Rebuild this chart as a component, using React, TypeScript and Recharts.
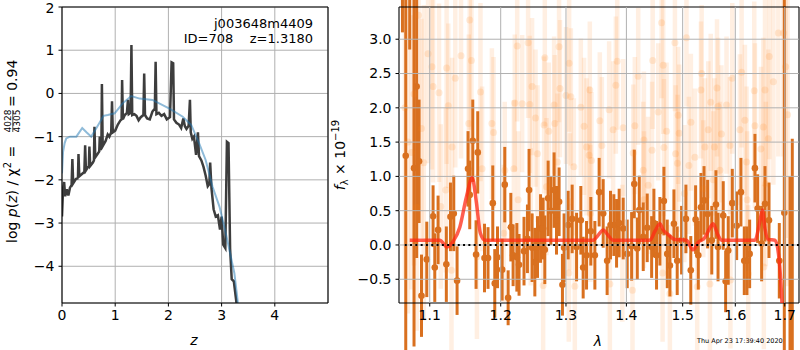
import React from 'react'
import {
  ComposedChart,
  Line,
  Scatter,
  ErrorBar,
  XAxis,
  YAxis,
  CartesianGrid,
  ReferenceLine,
} from 'recharts'

const FONT = "'DejaVu Sans', sans-serif"

// left panel: log p(z)
const zDark = [
  0, 0.02, 0.04, 0.06, 0.09, 0.12, 0.15, 0.18, 0.195, 0.21, 0.26, 0.3, 0.31, 0.325, 0.38, 0.42,
  0.435, 0.45, 0.48, 0.505, 0.515, 0.53, 0.58, 0.6, 0.61, 0.625, 0.67, 0.7, 0.71, 0.72, 0.74, 0.75,
  0.765, 0.82, 0.86, 0.89, 0.925, 0.94, 0.955, 1.0, 1.05, 1.1, 1.12, 1.13, 1.145, 1.18, 1.22, 1.24,
  1.255, 1.29, 1.305, 1.32, 1.36, 1.4, 1.44, 1.48, 1.53, 1.545, 1.56, 1.6, 1.65, 1.7, 1.745, 1.76,
  1.775, 1.82, 1.87, 1.92, 1.97, 2.03, 2.06, 2.09, 2.105, 2.15, 2.2, 2.24, 2.28, 2.31, 2.34, 2.38,
  2.405, 2.42, 2.45, 2.48, 2.52, 2.555, 2.575, 2.62, 2.66, 2.7, 2.74, 2.77, 2.785, 2.81, 2.85, 2.89,
  2.93, 2.97, 3.0, 3.03, 3.07, 3.1, 3.13, 3.16, 3.19, 3.23, 3.28, 3.31,
]
const pDark = [
  -2.85, -2.2, -2.05, -2.38, -2.22, -2.36, -2.18, -2.12, -1.52, -2.08, -1.98, -1.96, -1.4, -1.92,
  -1.86, -1.82, -1.2, -1.78, -1.72, -1.68, -1.23, -1.68, -1.6, -1.55, -0.77, -1.48, -1.4, -1.34,
  -1.0, -1.3, -1.25, 0.22, -1.22, -1.1, -0.95, -1.0, -0.9, -0.18, -0.9, -0.86, -0.72, -0.62, -0.6,
  0.31, -0.6, -0.5, -0.45, -0.15, -0.48, -0.45, 1.12, -0.5, -0.48, -0.52, -0.62, -0.55, -0.5, 0.46,
  -0.5, -0.58, -0.6, -0.42, -0.35, 0.73, -0.48, -0.45, -0.52, -0.48, -0.6, -0.55, 0.72, 0.7, -0.6,
  -0.68, -0.72, -0.8, -0.58, -0.76, -0.82, -0.75, -0.15, -0.9, -1.05, -1.0, -1.42, -0.9, -1.45,
  -1.55, -1.7, -1.9, -2.15, -2.1, -1.6, -2.2, -2.68, -2.85, -2.82, -3.15, -2.85, -3.5, -3.58, -1.12,
  -1.15, -3.6, -4.3, -4.35, -4.85, -5.4,
]
const zBlue = [
  0, 0.02, 0.05, 0.08, 0.15, 0.27, 0.38, 0.46, 0.55, 0.7, 0.78, 0.86, 0.99, 1.14, 1.3, 1.46, 1.7,
  2.02, 2.27, 2.43, 2.58, 2.7, 2.83, 2.96, 3.08, 3.24, 3.3, 3.34,
]
const pBlue = [
  -1.85, -1.35, -1.15, -1.04, -1.0, -1.0, -0.8, -0.9, -1.0, -0.69, -0.52, -0.5, -0.46, -0.23, -0.06,
  -0.12, -0.15, -0.35, -0.54, -0.73, -1.16, -1.54, -2.16, -2.62, -3.24, -4.16, -4.78, -5.3,
]
const zTicks = [0, 1, 2, 3, 4]
const pTicks = [-4, -3, -2, -1, 0, 1, 2]

// right panel: spectrum, bold points
const lamDark = [
  1.0638, 1.0681, 1.0733, 1.079, 1.0825, 1.0857, 1.0889, 1.096, 1.1045, 1.1068, 1.1113, 1.1226,
  1.1283, 1.1329, 1.1375, 1.1529, 1.1553, 1.1596, 1.1643, 1.1667, 1.1764, 1.1815, 1.1884, 1.1913,
  1.1953, 1.2021, 1.206, 1.211, 1.215, 1.2184, 1.224, 1.2273, 1.2348, 1.24, 1.2425, 1.2471, 1.2513,
  1.2554, 1.2601, 1.2641, 1.2667, 1.2719, 1.2761, 1.2812, 1.285, 1.2891, 1.2944, 1.297, 1.3035,
  1.3099, 1.317, 1.3239, 1.3277, 1.3332, 1.3402, 1.3469, 1.354, 1.3607, 1.3673, 1.373, 1.3786,
  1.3832, 1.3876, 1.3945, 1.4014, 1.409, 1.4136, 1.4188, 1.4223, 1.4292, 1.4362, 1.444, 1.448,
  1.4527, 1.4587, 1.4659, 1.4719, 1.4767, 1.484, 1.49, 1.498, 1.506, 1.515, 1.524, 1.529, 1.534,
  1.5398, 1.5466, 1.5545, 1.5625, 1.5665, 1.5765, 1.5812, 1.5862, 1.5941, 1.6027, 1.6111, 1.6177,
  1.623, 1.6284, 1.639, 1.6444, 1.6525, 1.6593, 1.6675, 1.6887, 1.6991, 1.711, 1.7158,
]
const fluxDark = [
  4.3, 1.3, 4.2, 1.12, 2.31, 1.22, -0.74, -0.21, 0.42, -0.33, 0.22, -0.28, 0.41, 0.46, -0.52, 1.11,
  0.73, 1.52, -0.14, 1.35, -0.19, -0.19, 0.61, -0.56, -0.18, -0.36, 0.88, -0.77, 0.26, -0.15,
  -0.18, -0.29, -0.09, 0.09, 0.8, -0.04, -0.25, -0.03, 0.24, 0.24, -0.07, 0.68, 0.5, 0.8, 0.36,
  0.63, -0.58, -0.04, 0.29, 0.38, -0.03, 0.36, -0.33, -0.15, 0.2, -0.15, 0.77, 0.46, -0.23, 0.29,
  0.29, 0.17, 0.32, 0.24, -0.13, -0.02, 0.89, -0.05, 0.51, 0.12, 0.25, -0.03, 0.32, -0.15, 0.2,
  0.64, -0.13, -0.3, 0.31, -0.23, 0.07, 0.38, -0.37, 0.37, -0.15, 0.55, 0.65, 0.45, 0.07, 0.59,
  -0.03, 0.43, -0.53, -0.08, 0.61, 0.28, 0.77, -0.23, -0.23, -0.13, 1.12, 0.53, 0.02, 0.6, 0.36,
  -0.23, 0.47, -1.5, -1.4,
]
const errDark = [
  1.2, 3.0, 1.35, 2.6, 2.5, 0.9, 0.6, 0.55, 0.45, 0.5, 0.5, 0.55, 0.5, 0.55, 0.5, 0.55, 0.5, 0.6,
  0.5, 0.6, 0.5, 0.45, 0.55, 0.5, 0.45, 0.45, 0.55, 0.4, 0.5, 0.45, 0.5, 0.45, 0.5, 0.5, 0.6, 0.5,
  0.5, 0.45, 0.5, 0.45, 0.5, 0.55, 0.5, 0.55, 0.5, 0.5, 0.45, 0.5, 0.5, 0.5, 0.5, 0.5, 0.45, 0.5,
  0.5, 0.5, 0.5, 0.5, 0.5, 0.5, 0.45, 0.5, 0.5, 0.45, 0.5, 0.5, 0.5, 0.45, 0.5, 0.5, 0.5, 0.45,
  0.5, 0.5, 0.5, 0.5, 0.5, 0.45, 0.5, 0.5, 0.5, 0.5, 0.5, 0.5, 0.5, 0.5, 0.5, 0.5, 0.5, 0.5, 0.5,
  0.5, 0.45, 0.5, 0.5, 0.5, 0.5, 0.5, 0.5, 0.5, 0.5, 0.5, 0.55, 0.55, 0.55, 0.55, 3.5, 2.5, 2.95,
]

// right panel: faint (other exposures) points
const lamFaint = [
  1.085, 1.0977, 1.103, 1.1045, 1.1126, 1.123, 1.1253, 1.135, 1.143, 1.1553, 1.1577, 1.1706,
  1.2245, 1.241, 1.2667, 1.289, 1.305, 1.2471, 1.2905, 1.3, 1.3078, 1.2209, 1.232, 1.2436, 1.2812,
  1.3239, 1.4617, 1.507, 1.4858, 1.3843, 1.4458, 1.4646, 1.4204, 1.382, 1.3386, 1.6867, 1.6971,
  1.668, 1.5353, 1.5941, 1.6124, 1.5645, 1.534, 1.6376, 1.6593, 1.6764, 1.5525, 1.5829, 1.5665,
  1.0889, 1.0757, 1.1539, 1.1871, 1.1895, 1.1305, 1.1729, 1.1218, 1.0825, 1.2524, 1.2656, 1.2823,
  1.3292, 1.2729, 1.2554, 1.2865, 1.3126, 1.3332, 1.3375, 1.2195, 1.206, 1.226, 1.3062, 1.3707,
  1.4557, 1.4918, 1.3551, 1.3945, 1.4146, 1.4707, 1.3774, 1.4304, 1.4936, 1.3585, 1.4447, 1.466,
  1.4117, 1.487, 1.4292, 1.4905, 1.3413, 1.4379, 1.5152, 1.5478, 1.619, 1.639, 1.6559, 1.573,
  1.6091, 1.5895, 1.5415, 1.5595, 1.6511, 1.6661, 1.5227, 1.6223, 1.5701, 1.5115, 1.661, 1.5384,
  1.115, 1.1297, 1.1655, 1.2045, 1.245, 1.2693, 1.3045, 1.3395, 1.393, 1.4105, 1.4305, 1.4635,
  1.5031, 1.527, 1.5573, 1.5905, 1.6235, 1.657, 1.2641, 1.3142, 1.3719, 1.4767, 1.551, 1.6256,
  1.067, 1.071, 1.079, 1.092, 1.702, 1.706,
]
const fluxFaint = [
  3.35, 2.79, 2.6, 2.31, 2.22, 2.58, 2.03, 2.43, 2.76, 3.28, 2.69, 2.23,
  2.9, 2.95, 2.73, 2.89, 2.65, 2.31, 2.28, 2.18, 2.16, 2.07, 2.06, 2.05, 2.04,
  2.01, 3.24, 3.02, 2.95, 2.68, 2.69, 2.62, 2.46, 2.33, 2.26, 3.09, 3.09,
  2.75, 2.5, 2.43, 2.52, 2.29, 2.26, 2.25, 2.26, 2.38, 2.08, 2.04, 2.02,
  1.7, 1.35, 1.77, 1.77, 1.64, 1.43, 1.11, 0.8, 0.55, 1.85, 1.75, 1.77,
  1.73, 1.66, 1.33, 1.21, 1.14, 1.43, 1.31, 1.11, 1.09, 0.66, 0.63, 1.97,
  1.94, 1.89, 1.81, 1.71, 1.74, 1.66, 1.68, 1.53, 1.63, 1.45, 1.38, 1.42,
  1.34, 1.33, 1.09, 1.19, 1.23, 0.87, 1.79, 1.68, 1.82, 1.74, 1.72, 1.62,
  1.68, 1.45, 1.43, 1.43, 1.4, 1.55, 1.28, 1.21, 1.09, 1.16, 0.89, 0.82,
  0.56, -0.37, -0.17, 0.17, 0.41, 0.85, -0.41, 0.46, -0.12, -0.66, 0.66, -0.41,
  0.75, -0.61, 0.95, -0.51, 0.66, -0.32, -0.59, -0.6, -0.57, -0.71, -0.57, -0.42,
  2.0, 1.5, 2.2, 1.2, 2.6, 1.9,
]
const errFaint = [
  1.8, 1.6, 1.5, 1.4, 1.3, 1.4, 1.2, 1.3, 1.5, 1.6, 1.5, 1.3,
  1.1, 1.1, 1.0, 1.1, 1.0, 1.0, 1.0, 1.0, 1.0, 1.0, 1.0, 1.0, 1.0,
  1.0, 1.1, 1.0, 1.0, 1.0, 1.0, 1.0, 1.0, 1.0, 1.0, 1.8, 1.8,
  1.5, 1.0, 1.1, 1.1, 1.0, 1.0, 1.3, 1.4, 1.5, 1.0, 1.0, 1.0,
  1.6, 2.0, 1.3, 1.1, 1.1, 1.3, 1.2, 1.2, 1.8, 1.0, 1.0, 1.0,
  1.0, 1.0, 1.0, 1.0, 1.0, 1.0, 1.0, 1.0, 1.0, 1.0, 1.0, 1.0,
  1.0, 1.0, 1.0, 1.0, 1.0, 1.0, 1.0, 1.0, 1.0, 1.0, 1.0, 1.0,
  1.0, 1.0, 1.0, 1.0, 1.0, 1.0, 1.0, 1.0, 1.1, 1.2, 1.3, 1.0,
  1.1, 1.0, 1.0, 1.0, 1.2, 1.3, 1.0, 1.1, 1.0, 1.0, 1.2, 1.0,
  1.2, 1.2, 1.2, 1.0, 1.0, 1.0, 1.0, 1.0, 1.0, 1.0, 1.0, 1.0,
  1.0, 1.0, 1.0, 1.0, 1.0, 1.2, 1.0, 1.0, 1.0, 1.0, 1.0, 1.0,
  2.5, 2.5, 2.5, 2.3, 2.5, 2.5,
]

// right panel: model and zero level
const lamModel = [
  1.0733, 1.1136, 1.1236, 1.1325, 1.1413, 1.1506, 1.1588, 1.1644, 1.1705, 1.1768, 1.344, 1.3522,
  1.3607, 1.369, 1.3774, 1.4409, 1.4498, 1.4587, 1.4646, 1.4737, 1.4858, 1.507, 1.519, 1.529,
  1.5415, 1.551, 1.557, 1.566, 1.573, 1.639, 1.6491, 1.654, 1.659, 1.666, 1.68, 1.687, 1.694, 1.697,
]
const fluxModel = [
  0.07, 0.07, -0.03, 0.06, 0.26, 0.7, 0.98, 0.65, 0.17, 0.07, 0.07, 0.14, 0.22, 0.14, 0.07, 0.07,
  0.2, 0.31, 0.22, 0.15, 0.08, 0.07, -0.07, 0.04, 0.11, 0.25, 0.31, 0.15, 0.07, 0.07, 0.35, 0.51,
  0.25, 0.08, 0.07, -0.13, -0.81, -1.3,
]
const lamZero = [1.0668, 1.73]
const lamTicks = [1.1, 1.2, 1.3, 1.4, 1.5, 1.6, 1.7]
const fluxTicks = [-0.5, 0, 0.5, 1, 1.5, 2, 2.5, 3]

const zip = (a: number[], b: number[], ka: string, kb: string) =>
  a.map((v, i) => ({ [ka]: v, [kb]: b[i] }))

const leftDark = zip(zDark, pDark, 'z', 'p')
const leftBlue = zip(zBlue, pBlue, 'z', 'p')
const darkPts = lamDark.map((l, i) => ({ lam: l, flux: fluxDark[i], err: errDark[i] }))
const faintPts = lamFaint.map((l, i) => ({ lam: l, flux: fluxFaint[i], err: errFaint[i] }))
const model = zip(lamModel, fluxModel, 'lam', 'flux')
const zeroLine = lamZero.map((l) => ({ lam: l, flux: 0 }))

const minus = (s: string) => s.replace('-', '\u2212')
const tickStyle = { fontSize: 14, fill: '#000', fontFamily: FONT }
const axisLine = { stroke: '#000', strokeWidth: 1.1 }
const GRID = '#b0b0b0'

const App = () => {
  return (
    <div
      style={{
        position: 'absolute',
        left: 0,
        top: 0,
        width: 800,
        height: 350,
        background: '#fff',
        fontFamily: FONT,
      }}
    >
      <div style={{ position: 'absolute', left: 0, top: 0 }}>
        <ComposedChart width={335} height={350} margin={{ top: 7, right: 7, bottom: 17, left: 0 }}>
          <CartesianGrid stroke={GRID} strokeWidth={1} />
          <XAxis
            dataKey="z"
            type="number"
            domain={[0, 5]}
            ticks={zTicks}
            allowDataOverflow
            height={30}
            tick={tickStyle}
            tickSize={3.5}
            tickMargin={4}
            axisLine={axisLine}
            tickLine={{ stroke: '#000' }}
          />
          <YAxis
            dataKey="p"
            type="number"
            domain={[-4.85, 2]}
            ticks={pTicks}
            allowDataOverflow
            width={62}
            tick={tickStyle}
            tickSize={3.5}
            tickMargin={4}
            tickFormatter={(v: number) => minus(String(v))}
            axisLine={axisLine}
            tickLine={{ stroke: '#000' }}
          />
          <ReferenceLine x={5} stroke="#000" strokeWidth={1.1} />
          <ReferenceLine y={2} stroke="#000" strokeWidth={1.1} />
          <Line
            data={leftDark}
            dataKey="p"
            stroke="#3d3d3d"
            strokeWidth={2.5}
            dot={false}
            isAnimationActive={false}
          />
          <Line
            data={leftBlue}
            dataKey="p"
            stroke="#1f77b4"
            strokeOpacity={0.5}
            strokeWidth={2}
            dot={false}
            isAnimationActive={false}
          />
        </ComposedChart>
      </div>

      <div style={{ position: 'absolute', left: 330, top: 0 }}>
        <ComposedChart width={470} height={350} margin={{ top: 7, right: 1, bottom: 17, left: 0 }}>
          <XAxis
            dataKey="lam"
            type="number"
            scale="log"
            domain={[1.0593, 1.73]}
            ticks={lamTicks}
            allowDataOverflow
            height={30}
            tick={tickStyle}
            tickSize={3.5}
            tickMargin={4}
            tickFormatter={(v: number) => v.toFixed(1)}
            axisLine={axisLine}
            tickLine={{ stroke: '#000' }}
          />
          <YAxis
            dataKey="flux"
            type="number"
            domain={[-0.846, 3.47]}
            ticks={fluxTicks}
            allowDataOverflow
            width={69}
            tick={tickStyle}
            tickSize={3.5}
            tickMargin={4}
            tickFormatter={(v: number) => minus(v.toFixed(1))}
            axisLine={axisLine}
            tickLine={{ stroke: '#000' }}
          />
          <Scatter
            data={faintPts}
            dataKey="flux"
            isAnimationActive={false}
            shape={(p: any) => (
              <circle cx={p.cx} cy={p.cy} r={3.5} fill="#ff7f0e" fillOpacity={0.15} />
            )}
          >
            <ErrorBar
              dataKey="err"
              direction="y"
              width={0}
              stroke="#ff7f0e"
              strokeOpacity={0.12}
              strokeWidth={4.5}
            />
          </Scatter>
          <Scatter
            data={darkPts}
            dataKey="flux"
            isAnimationActive={false}
            shape={(p: any) => <circle cx={p.cx} cy={p.cy} r={3.3} fill="#d9701f" />}
          >
            <ErrorBar dataKey="err" direction="y" width={0} stroke="#d9701f" strokeWidth={3} />
          </Scatter>
          {fluxTicks.map((t) => (
            <ReferenceLine key={'h' + t} y={t} stroke={GRID} strokeWidth={1} zIndex={900} />
          ))}
          {lamTicks.map((t) => (
            <ReferenceLine key={'v' + t} x={t} stroke={GRID} strokeWidth={1} zIndex={900} />
          ))}
          <Line
            data={model}
            dataKey="flux"
            type="monotone"
            stroke="#ff2814"
            strokeOpacity={0.75}
            strokeWidth={3.5}
            dot={false}
            isAnimationActive={false}
            zIndex={950}
          />
          <Line
            data={zeroLine}
            dataKey="flux"
            stroke="#000"
            strokeWidth={2}
            strokeDasharray="2 3.3"
            dot={false}
            isAnimationActive={false}
            zIndex={960}
          />
          <ReferenceLine x={1.73} stroke="#000" strokeWidth={1.1} />
          <ReferenceLine y={3.47} stroke="#000" strokeWidth={1.1} />
        </ComposedChart>
      </div>

      <svg
        width={800}
        height={350}
        style={{ position: 'absolute', left: 0, top: 0, pointerEvents: 'none' }}
        fontFamily={FONT}
      >
        <g transform="translate(12,157) rotate(-90)">
          <text x={-86} y={5} fontSize={14} fill="#000">
            log <tspan fontStyle="italic">p</tspan>(<tspan fontStyle="italic">z</tspan>) / χ
            <tspan fontSize={10} dy={-6}>2</tspan>
            <tspan dy={6}> =</tspan>
          </text>
          <text x={36} y={-1.5} fontSize={9} textAnchor="middle" fill="#000">4028</text>
          <line x1={25} x2={47} y1={0.8} y2={0.8} stroke="#000" strokeWidth={0.7} />
          <text x={36} y={8} fontSize={9} textAnchor="middle" fill="#000">4305</text>
          <text x={50} y={5} fontSize={14} fill="#000">= 0.94</text>
        </g>
        <g transform="translate(340,155) rotate(-90)">
          <text x={0} y={5} fontSize={14} textAnchor="middle" fill="#000">
            <tspan fontStyle="italic">f</tspan>
            <tspan fontSize={10} dy={3}>λ</tspan>
            <tspan dy={-3}> × 10</tspan>
            <tspan fontSize={10} dy={-6}>−19</tspan>
          </text>
        </g>
        <text x={194} y={345} fontSize={14} fontStyle="italic" textAnchor="middle">z</text>
        <text x={598} y={346} fontSize={14} fontStyle="italic" textAnchor="middle">λ</text>
        <text x={313} y={28} fontSize={13} textAnchor="end">j003648m4409</text>
        <text x={313} y={43} fontSize={13} textAnchor="end" style={{ whiteSpace: 'pre' }}>
          {'ID=708    z=1.3180'}
        </text>
        <text x={697} y={343} fontSize={6.5}>Thu Apr 23 17:39:40 2020</text>
      </svg>
    </div>
  )
}

export default App
